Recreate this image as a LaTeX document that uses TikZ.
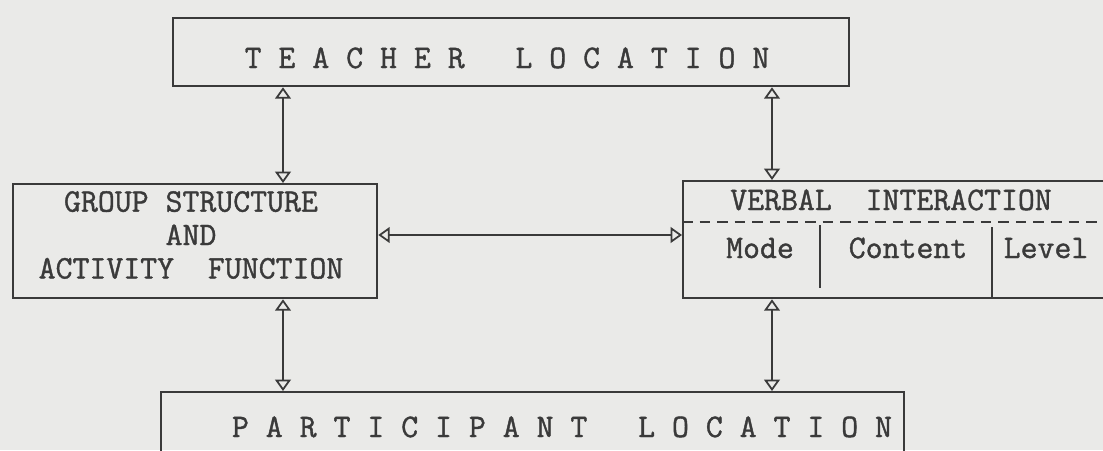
\documentclass[tikz,border=0pt]{standalone}
\usepackage{fontspec}
\newfontfamily\typer[FakeBold=1.2]{Latin Modern Mono}
\usetikzlibrary{arrows.meta}
\definecolor{ink}{RGB}{58,58,58}
\definecolor{paper}{RGB}{234,234,232}

\begin{document}
\begin{tikzpicture}[
  every node/.style={font=\typer\fontsize{18.7}{19}\selectfont, text=ink},
  box/.style={draw=ink, line width=1.3pt, inner sep=0pt, anchor=north west},
  lbl/.style={inner sep=0pt, anchor=base},
  link/.style={draw=ink, line width=1pt, {Triangle[open,length=6.5pt,width=9pt]}-{Triangle[open,length=6.5pt,width=9pt]}},
  divider/.style={draw=ink, line width=1.1pt},
  subline/.style={draw=ink, line width=1.1pt, dash pattern=on 6pt off 4pt}
]
\useasboundingbox (0,0) rectangle (22.06,-9);
\clip (0,0) rectangle (22.06,-9);
\fill[paper] (0,0) rectangle (22.06,-9);

\node[box, minimum width=13.52cm, minimum height=1.36cm] (teacher) at (3.44,-0.34) {};
\node[lbl] (teachertxt) at (10.14,-1.36) {T E A C H E R\ \ \ L O C A T I O N};

\node[box, minimum width=7.28cm, minimum height=2.28cm] (group) at (0.24,-3.66) {};
\node[inner sep=0pt, align=center] (grouptxt) at (3.82,-4.70) {GROUP STRUCTURE\\AND\\ACTIVITY\ \ FUNCTION};

\node[box, minimum width=10cm, minimum height=2.34cm] (verbal) at (13.64,-3.60) {};
\node[lbl] (verbaltxt) at (17.82,-4.20) {VERBAL\ \ INTERACTION};
\node[lbl] (mode) at (15.20,-5.16) {Mode};
\node[lbl] (content) at (18.16,-5.16) {Content};
\node[lbl] (level) at (20.92,-5.16) {Level};

\node[box, minimum width=14.86cm, minimum height=2cm] (participant) at (3.20,-7.82) {};
\node[lbl] (participanttxt) at (11.24,-8.74) {P A R T I C I P A N T\ \ \ L O C A T I O N};

\coordinate (vdash) at (13.64,-4.44);
\draw[subline] (vdash) -- (vdash -| verbal.east);
\coordinate (modetop) at (16.40,-4.50);
\coordinate (modebot) at (16.40,-5.76);
\draw[divider] (modetop) -- (modebot);
\coordinate (leveltop) at (19.84,-4.54);
\draw[divider] (leveltop) -- (leveltop |- verbal.south);

\coordinate (lx) at (5.66,0);
\coordinate (rx) at (15.44,0);
\coordinate (hy) at (0,-4.70);
\draw[link] (teacher.south -| lx) -- (group.north -| lx);
\draw[link] (teacher.south -| rx) -- (verbal.north -| rx);
\draw[link] (group.east |- hy) -- (verbal.west |- hy);
\draw[link] (group.south -| lx) -- (participant.north -| lx);
\draw[link] (verbal.south -| rx) -- (participant.north -| rx);
\end{tikzpicture}
\end{document}
